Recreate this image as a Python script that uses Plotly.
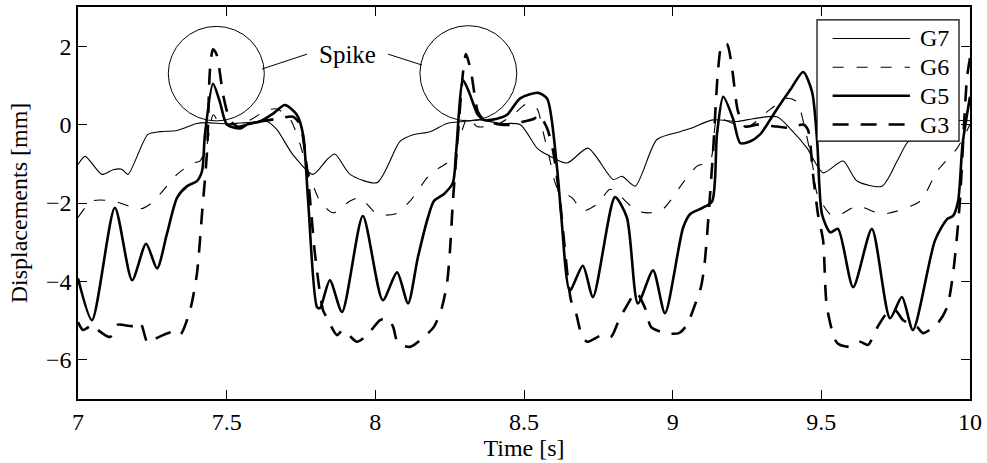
import plotly.graph_objects as go

# ---------------- data ----------------
g7_t = [7.000, 7.024, 7.080, 7.118, 7.147, 7.168, 7.235, 7.276, 7.333, 7.400, 7.434, 7.501, 7.568,
        7.636, 7.669, 7.723, 7.790, 7.838, 7.864, 7.915, 8.006, 8.083, 8.127, 8.184, 8.241, 8.295,
        8.352, 8.419, 8.487, 8.544, 8.578, 8.645, 8.715, 8.800, 8.830, 8.874, 8.947, 9.025, 9.059,
        9.136, 9.217, 9.270, 9.351, 9.395, 9.452, 9.506, 9.573, 9.620, 9.704, 9.755, 9.788, 9.850,
        9.920, 10.000]
g7_y = [-1.02, -0.81, -1.27, -1.15, -1.14, -1.27, -0.25, -0.18, -0.15, 0.03, 0.05, 0.02, 0.05,
        0.08, -0.13, -0.77, -1.27, -0.89, -0.75, -1.27, -1.48, -0.43, -0.26, -0.18, 0.03, 0.08,
        0.12, 0.03, 0.00, -0.60, -0.77, -0.98, -0.60, -1.40, -1.32, -1.57, -0.38, -0.18, -0.10,
        0.12, 0.08, 0.15, 0.20, -0.10, -0.60, -1.23, -0.93, -1.44, -1.57, -0.93, -0.47, -0.05,
        0.10, 0.10]

g6_t = [7.000, 7.047, 7.118, 7.209, 7.242, 7.276, 7.333, 7.387, 7.410, 7.434, 7.455, 7.480, 7.568,
        7.636, 7.669, 7.713, 7.747, 7.770, 7.814, 7.858, 7.915, 7.949, 8.006, 8.066, 8.117, 8.184,
        8.241, 8.261, 8.312, 8.342, 8.409, 8.463, 8.510, 8.544, 8.564, 8.588, 8.611, 8.662, 8.699,
        8.746, 8.789, 8.813, 8.880, 8.924, 8.968, 9.035, 9.082, 9.126, 9.150, 9.180, 9.217, 9.260,
        9.318, 9.385, 9.418, 9.445, 9.472, 9.486, 9.529, 9.553, 9.620, 9.708, 9.832, 9.889, 9.957,
        10.000]
g6_y = [-2.37, -1.95, -1.95, -2.15, -2.03, -1.77, -1.27, -0.98, -0.93, -0.50, 0.25, 0.00, 0.08,
        0.37, 0.40, 0.15, -0.50, -1.10, -1.95, -2.25, -1.95, -1.87, -2.28, -2.28, -1.95, -1.27,
        -0.98, -0.85, 0.20, -0.05, 0.00, 0.25, 0.53, 0.40, -0.18, -0.93, -1.60, -1.87, -2.20,
        -2.03, -1.65, -1.75, -2.20, -2.25, -2.15, -1.48, -1.06, -0.93, 0.20, 0.10, 0.00, -0.03,
        0.33, 0.67, 0.58, -0.10, -1.10, -1.77, -2.28, -2.33, -2.08, -2.28, -1.95, -1.19, -0.60,
        0.00]

g5_t = [7.000, 7.047, 7.124, 7.182, 7.229, 7.266, 7.299, 7.333, 7.367, 7.400, 7.417, 7.427, 7.454,
        7.477, 7.501, 7.545, 7.568, 7.612, 7.656, 7.696, 7.736, 7.757, 7.774, 7.804, 7.814, 7.847,
        7.888, 7.958, 8.025, 8.073, 8.110, 8.143, 8.177, 8.197, 8.231, 8.261, 8.271, 8.295, 8.315,
        8.345, 8.366, 8.409, 8.443, 8.487, 8.547, 8.578, 8.611, 8.625, 8.654, 8.698, 8.732, 8.806,
        8.846, 8.883, 8.934, 8.974, 9.035, 9.059, 9.102, 9.133, 9.149, 9.170, 9.203, 9.227, 9.260,
        9.294, 9.351, 9.395, 9.439, 9.469, 9.486, 9.502, 9.530, 9.556, 9.607, 9.670, 9.731, 9.771,
        9.808, 9.882, 9.923, 9.943, 9.960, 9.975, 10.000]
g5_y = [-3.92, -4.99, -2.12, -3.97, -3.04, -3.67, -2.79, -1.87, -1.57, -1.44, -1.19, -0.25, 1.04,
        0.58, 0.00, -0.10, 0.00, 0.08, 0.28, 0.50, 0.25, -0.25, -1.95, -4.66, -4.68, -3.97,
        -4.78, -2.33, -4.48, -3.77, -4.56, -3.39, -2.37, -1.95, -1.77, -1.48, -0.77, 1.13, 0.83,
        0.25, 0.12, 0.15, 0.25, 0.67, 0.81, 0.66, -1.10, -2.30, -4.23, -3.60, -4.40, -1.85,
        -2.37, -4.56, -3.72, -4.81, -2.63, -2.28, -2.12, -1.95, -0.25, 0.71, 0.15, -0.47, -0.43,
        -0.25, 0.40, 0.88, 1.34, 0.83, -0.43, -2.28, -2.75, -2.66, -4.15, -2.66, -4.94, -4.40,
        -5.24, -2.96, -2.41, -2.33, -1.95, -0.50, 0.71]

g3_t = [7.000, 7.017, 7.050, 7.067, 7.108, 7.131, 7.185, 7.209, 7.235, 7.266, 7.319, 7.343, 7.377,
        7.400, 7.417, 7.434, 7.444, 7.454, 7.467, 7.488, 7.511, 7.535, 7.612, 7.673, 7.723, 7.747,
        7.770, 7.785, 7.797, 7.824, 7.838, 7.871, 7.891, 7.938, 7.972, 8.016, 8.043, 8.060, 8.076,
        8.117, 8.160, 8.197, 8.224, 8.241, 8.251, 8.261, 8.278, 8.295, 8.305, 8.322, 8.345, 8.366,
        8.423, 8.466, 8.500, 8.534, 8.550, 8.578, 8.598, 8.621, 8.658, 8.675, 8.692, 8.712, 8.762,
        8.792, 8.819, 8.843, 8.877, 8.910, 8.927, 8.977, 9.021, 9.048, 9.072, 9.095, 9.106, 9.116,
        9.136, 9.153, 9.166, 9.183, 9.200, 9.220, 9.244, 9.284, 9.351, 9.395, 9.439, 9.455, 9.472,
        9.489, 9.506, 9.519, 9.553, 9.597, 9.630, 9.657, 9.687, 9.721, 9.748, 9.775, 9.822, 9.842,
        9.892, 9.923, 9.943, 9.957, 9.966, 9.990, 10.000]
g3_y = [-5.04, -5.24, -5.11, -5.24, -5.42, -5.11, -5.14, -5.04, -5.57, -5.44, -5.29, -5.37, -4.73,
        -3.80, -2.28, -0.68, 1.42, 1.92, 1.77, 0.76, 0.12, -0.05, 0.08, 0.15, 0.20, 0.00,
        -1.11, -2.30, -3.30, -4.73, -4.94, -5.37, -5.24, -5.54, -5.37, -4.99, -4.94, -5.16, -5.57,
        -5.67, -5.44, -5.16, -4.66, -4.05, -3.22, -1.95, -0.25, 1.34, 1.80, 1.34, 0.33, 0.12,
        0.00, 0.00, 0.08, 0.15, 0.25, -0.10, -0.68, -1.95, -4.48, -4.81, -5.32, -5.54, -5.37,
        -5.42, -4.99, -4.66, -4.28, -4.73, -5.16, -5.32, -5.32, -5.11, -4.66, -4.15, -3.64, -2.79,
        -0.68, 1.42, 2.05, 2.05, 1.42, 0.33, -0.05, 0.00, -0.05, -0.08, 0.00, -0.13, -1.27,
        -2.30, -2.96, -4.66, -5.57, -5.67, -5.54, -5.62, -5.19, -4.81, -4.73, -4.99, -5.16, -5.32,
        -5.06, -4.66, -3.80, -2.79, -1.95, 1.20, 1.70]

x_ticks = [7, 7.5, 8, 8.5, 9, 9.5, 10]
x_tick_labels = ["7", "7.5", "8", "8.5", "9", "9.5", "10"]
y_ticks = [-6, -4, -2, 0, 2]
y_tick_labels = ["\u22126", "\u22124", "\u22122", "0", "2"]

series_names = ["G7", "G6", "G5", "G3"]

# ---------------- styles ----------------
FONT = "Liberation Serif"
FS = 24
styles = {
    "G7": dict(width=1.1, dash="solid"),
    "G6": dict(width=1.1, dash="11px,13px"),
    "G5": dict(width=2.6, dash="solid"),
    "G3": dict(width=2.6, dash="16px,12px"),
}
data = {"G7": (g7_t, g7_y), "G6": (g6_t, g6_y), "G5": (g5_t, g5_y), "G3": (g3_t, g3_y)}

fig = go.Figure()
for name in series_names:
    t, y = data[name]
    st = styles[name]
    fig.add_trace(go.Scatter(
        x=t, y=y, mode="lines", name=name, showlegend=False,
        line=dict(color="black", width=st["width"], dash=st["dash"],
                  shape="spline", smoothing=0.7),
    ))

axis_common = dict(showline=True, linecolor="black", linewidth=1.5, mirror="ticks",
                   ticks="inside", ticklen=9, tickwidth=1, tickcolor="black",
                   showgrid=False, zeroline=False,
                   tickfont=dict(family=FONT, size=FS, color="black"))

fig.update_xaxes(range=[7, 10], tickvals=x_ticks, ticktext=x_tick_labels,
                 title=dict(text="Time [s]", font=dict(family=FONT, size=FS, color="black"),
                            standoff=6),
                 **axis_common)
fig.update_yaxes(range=[-7, 3], tickvals=y_ticks, ticktext=y_tick_labels,
                 title=dict(text="Displacements [mm]", font=dict(family=FONT, size=FS, color="black"),
                            standoff=12),
                 **axis_common)

shapes = []
annotations = []

# Spike circles and leader lines (data coordinates)
shapes.append(dict(type="circle", xref="x", yref="y", x0=7.3037, x1=7.6266, y0=0.094, y1=2.506,
                   line=dict(color="black", width=1)))
shapes.append(dict(type="circle", xref="x", yref="y", x0=8.150, x1=8.4756, y0=0.094, y1=2.524,
                   line=dict(color="black", width=1)))
shapes.append(dict(type="line", xref="x", yref="y", x0=7.619, y0=1.418, x1=7.770, y1=1.797,
                   line=dict(color="black", width=1)))
shapes.append(dict(type="line", xref="x", yref="y", x0=8.043, y0=1.797, x1=8.157, y1=1.519,
                   line=dict(color="black", width=1)))
annotations.append(dict(x=7.908, y=1.80, xref="x", yref="y", text="Spike", showarrow=False,
                        font=dict(family=FONT, size=25, color="black"),
                        xanchor="center", yanchor="middle"))

# Manual legend (paper coordinates)
shapes.append(dict(type="rect", xref="paper", yref="paper", x0=0.8285, x1=0.9877, y0=0.6578, y1=0.967,
                   line=dict(color="black", width=1.2), fillcolor="white", layer="above"))
row_y = [0.9197, 0.8462, 0.7737, 0.7001]
for name, ry in zip(series_names, row_y):
    st = styles[name]
    shapes.append(dict(type="line", xref="paper", yref="paper", x0=0.846, x1=0.9327, y0=ry, y1=ry,
                       line=dict(color="black", width=st["width"], dash=st["dash"]), layer="above"))
    annotations.append(dict(x=0.9414, y=ry, xref="paper", yref="paper", text=name, showarrow=False,
                            xanchor="left", yanchor="middle",
                            font=dict(family=FONT, size=FS, color="black")))

fig.update_layout(
    width=987, height=463,
    margin=dict(l=78, r=17, t=5, b=64),
    paper_bgcolor="white", plot_bgcolor="white",
    shapes=shapes, annotations=annotations,
    font=dict(family=FONT, size=FS, color="black"),
)

fig.write_html("out.html")
